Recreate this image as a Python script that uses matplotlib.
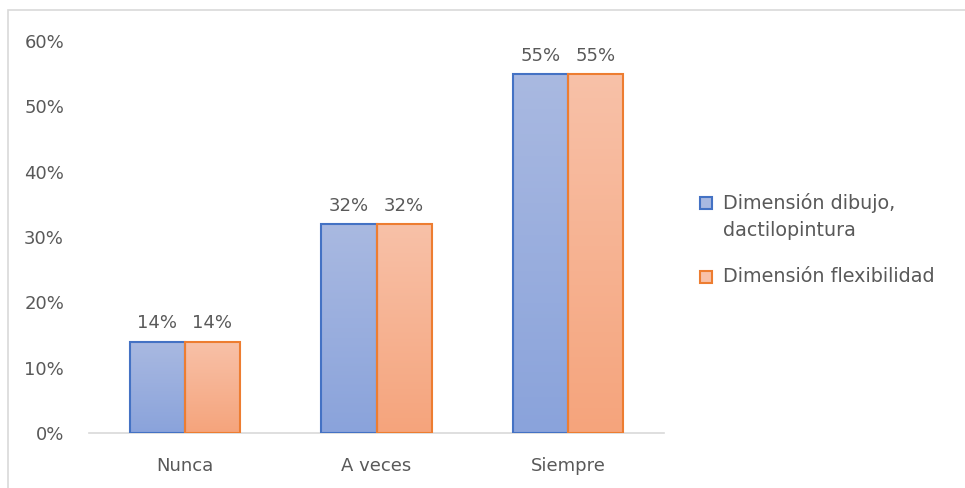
#!/usr/bin/env python3
# Grouped bars, Excel-like gradient fill.

import matplotlib.pyplot as plt
import numpy as np
from matplotlib.colors import LinearSegmentedColormap
from matplotlib.patches import Rectangle

plt.rcParams['font.family'] = ['DejaVu Sans']

categories = ['Nunca', 'A veces', 'Siempre']
dibujo = [0.14, 0.32, 0.55]
flexibilidad = [0.14, 0.32, 0.55]
series_names = ['Dimensión dibujo,\ndactilopintura', 'Dimensión flexibilidad']
yticks = [0, 0.1, 0.2, 0.3, 0.4, 0.5, 0.6]

txt = '#595959'
edges = ['#4472C4', '#ED7D31']
grads = [('#A9B9E1', '#8AA3DB'), ('#F8C1A8', '#F5A47C')]
fs = 13

W, H = 965, 488
fig = plt.figure(figsize=(W / 100, H / 100), dpi=100)
fig.patches.append(Rectangle((8 / W, -0.05), 1, 1.05 - 10 / H, transform=fig.transFigure,
                             fill=False, edgecolor='#D9D9D9', linewidth=1.2))
ax = fig.add_axes([89 / W, 55 / H, 575 / W, 392 / H])

x = np.arange(len(categories))
w = 0.287
for k, vals in enumerate([dibujo, flexibilidad]):
    off = (k - 0.5) * w
    bars = ax.bar(x + off, vals, w, facecolor='none', edgecolor=edges[k],
                  linewidth=1.5, label=series_names[k], zorder=3)
    cmap = LinearSegmentedColormap.from_list('g%d' % k, [grads[k][1], grads[k][0]])
    for b, v in zip(bars, vals):
        grad = np.linspace(0, 1, 100).reshape(-1, 1)
        im = ax.imshow(grad, cmap=cmap, origin='lower', aspect='auto', zorder=2,
                       extent=(b.get_x(), b.get_x() + w, 0, v))
        im.set_clip_path(b)
        ax.text(b.get_x() + w / 2, v + 0.014, '%d%%' % round(v * 100),
                ha='center', va='bottom', fontsize=fs, color=txt)

ax.set_xlim(-0.5, 2.5)
ax.set_ylim(0, 0.6)
ax.set_xticks(x)
ax.set_xticklabels(categories)
ax.set_yticks(yticks)
ax.set_yticklabels(['%d%%' % round(t * 100) for t in yticks])
ax.tick_params(length=0, labelsize=fs, colors=txt)
ax.tick_params(axis='x', pad=17)
ax.tick_params(axis='y', pad=18)
for s in ['top', 'right', 'left']:
    ax.spines[s].set_visible(False)
ax.spines['bottom'].set_color('#D9D9D9')
ax.spines['bottom'].set_linewidth(1.2)

# legend drawn by hand: square beside the first line of each entry
leg_y = [203, 277]
for k, name in enumerate(series_names):
    yc = leg_y[k]
    fig.patches.append(Rectangle((700 / W, 1 - (yc + 6) / H), 12 / W, 12 / H,
                                 transform=fig.transFigure, facecolor=grads[k][0],
                                 edgecolor=edges[k], linewidth=1.5))
    fig.text(723 / W, 1 - (yc - 10) / H, name, ha='left', va='top',
             fontsize=13.8, color=txt, linespacing=1.5)

fig.savefig('out.png', dpi=100)
